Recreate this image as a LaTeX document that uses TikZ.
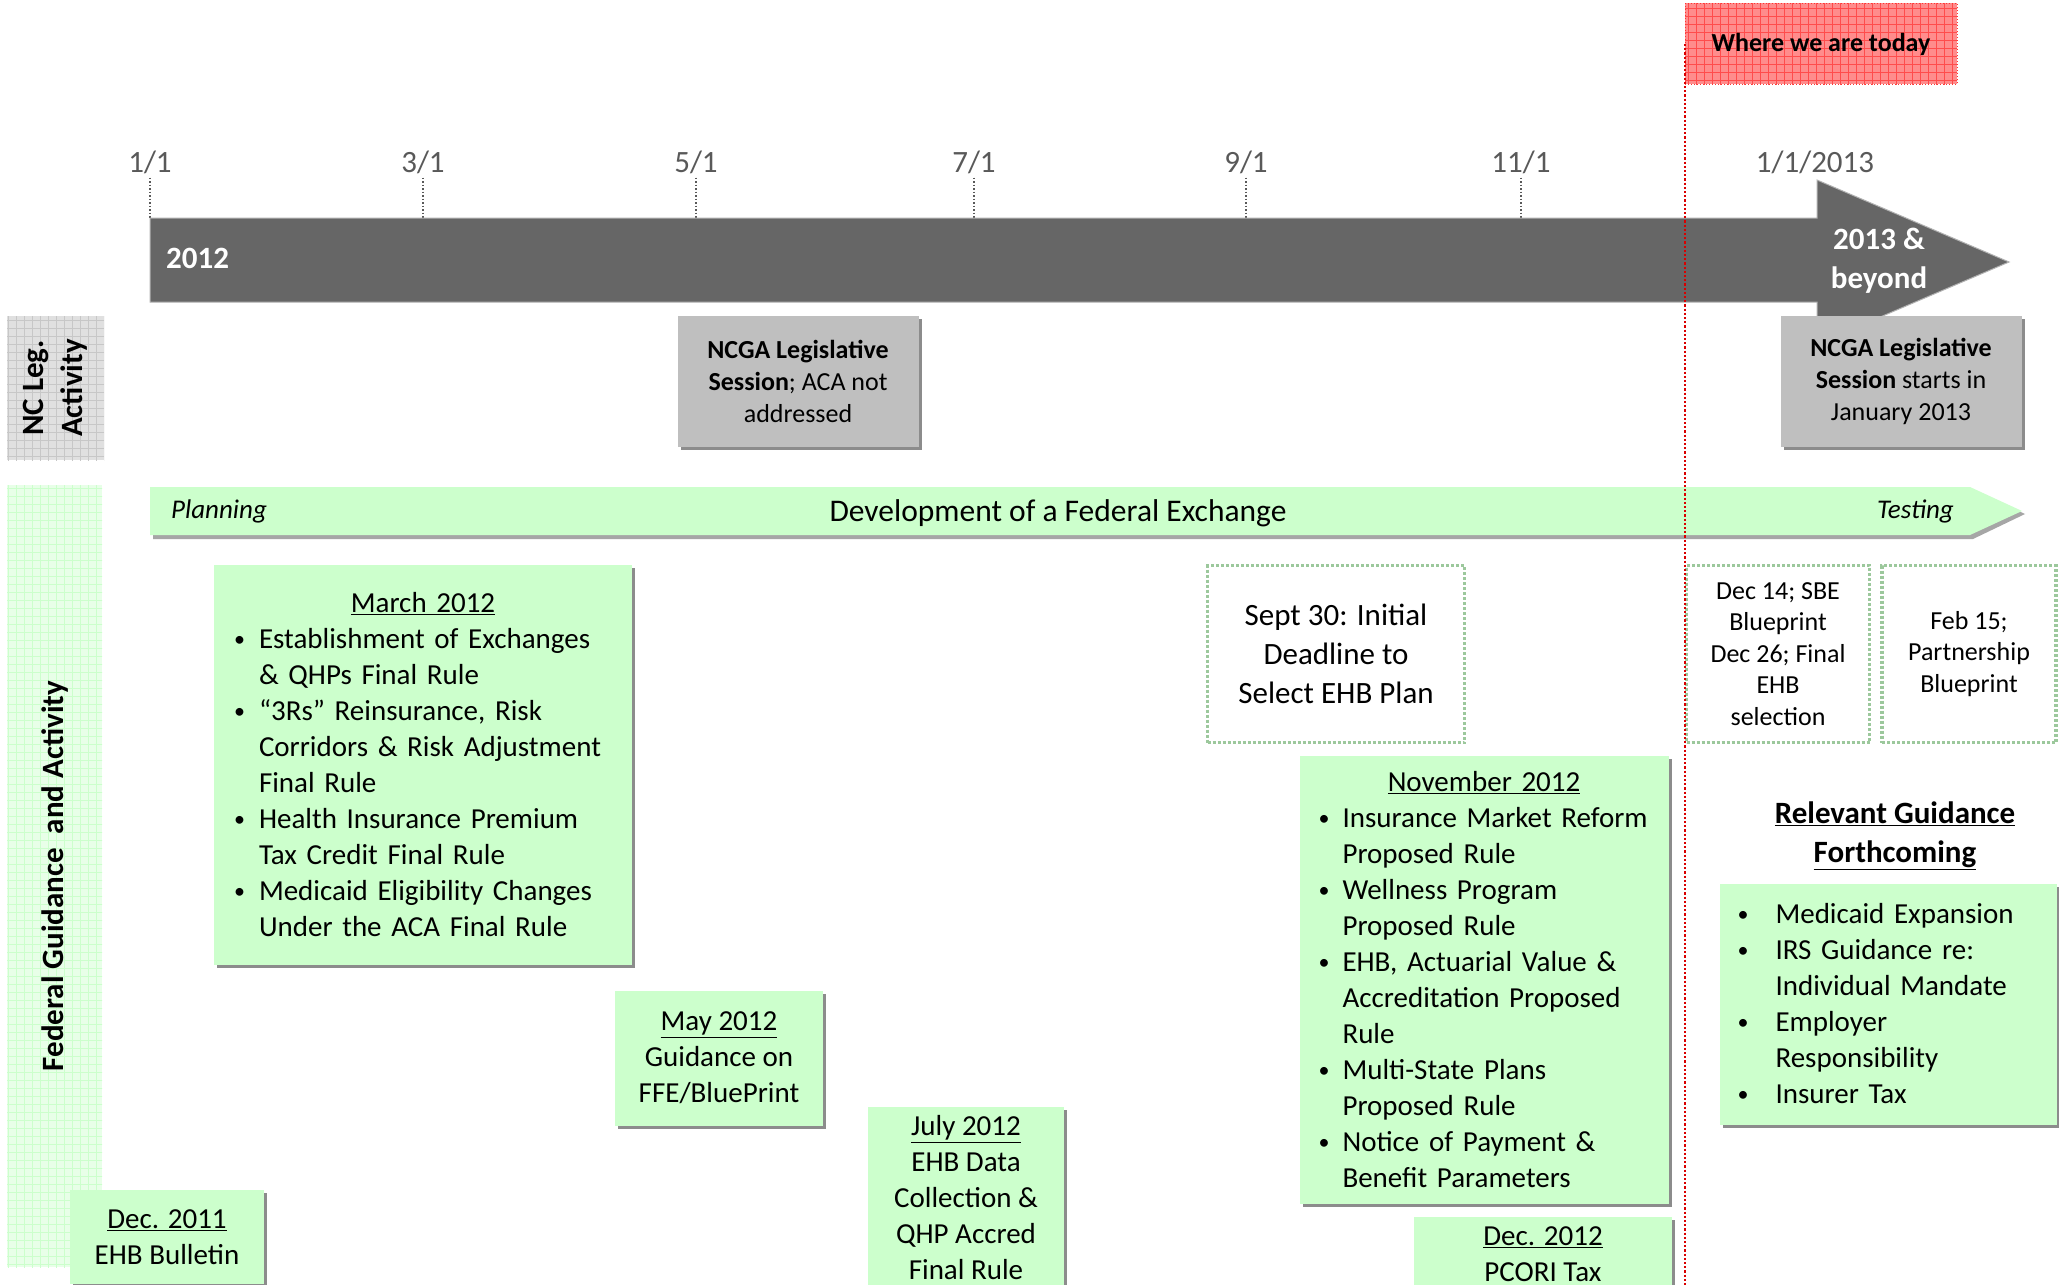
\documentclass[tikz,border=0pt]{standalone}
\usepackage{fontspec}
\setmainfont{Carlito}
\usetikzlibrary{shadows}
\definecolor{boxgreen}{HTML}{CCFFCC}
\definecolor{bargray}{HTML}{666666}
\definecolor{ncgagray}{HTML}{BFBFBF}
\definecolor{ticktext}{HTML}{595959}
\definecolor{dotgreen}{HTML}{9CC89C}
\newcommand\smbul{\raisebox{0.08em}{\fontsize{22}{22}\selectfont\textbullet}}
\newcommand\bi[2][26pt]{\makebox[#1][l]{\hspace{1pt}\smbul}#2}
\newcommand\ci[2][26pt]{\hspace*{#1}#2}
\newcommand\ttl[1]{\makebox[\linewidth]{\underline{#1}}}
\begin{document}
\begin{tikzpicture}[x=1pt,y=-1pt,
  shd/.style={drop shadow={shadow xshift=3pt,shadow yshift=-3pt,fill=black!45,opacity=1}},
  gbox/.style={shd,fill=boxgreen,draw=none,inner sep=0pt,align=center,font=\fontsize{29}{36}\selectfont},
  lbox/.style={gbox,align=left},
  dbox/.style={fill=white,draw=dotgreen,line width=3.5pt,dash pattern=on 3pt off 2pt,inner sep=0pt,align=center},
  nbox/.style={shd,fill=ncgagray,draw=none,inner sep=0pt,align=center,font=\fontsize{26}{32}\selectfont},
  tick/.style={draw=ticktext,dotted,line width=1.5pt},
  ticklab/.style={text=ticktext,font=\fontsize{31}{36}\selectfont,inner sep=0pt}]
\useasboundingbox (0,0) rectangle (2059,1285);
\clip (0,0) rectangle (2059,1285);
\fill[white] (0,0) rectangle (2059,1285);

% where we are today
\fill[red!45!white] (1685,3) rectangle (1957,84);
\begin{scope}
\clip (1685,3) rectangle (1957,84);
\draw[red!70!white,line width=0.8pt,step=8pt] (1680,0) grid (1960,90);
\end{scope}
\draw[red!80!white,dotted,line width=1pt] (1685,3) rectangle (1957,84);
\node[font=\bfseries\fontsize{26}{32}\selectfont,inner sep=0pt] (today) at (1821,44) {Where we are today};

% row labels
\fill[black!12] (7,316) rectangle (104,460);
\begin{scope}
\clip (7,316) rectangle (104,460);
\draw[black!22,line width=0.8pt,step=8pt] (0,310) grid (110,470);
\end{scope}
\node[rotate=90,align=center,font=\bfseries\fontsize{31}{39}\selectfont,inner sep=0pt] (nclab) at (55,388) {NC Leg.\\Activity};

\fill[green!9!white] (7,485) rectangle (102,1267);
\begin{scope}
\clip (7,485) rectangle (102,1267);
\draw[green!20!white,line width=0.8pt,step=8pt] (0,480) grid (110,1270);
\end{scope}
\node[rotate=90,font=\bfseries\fontsize{31}{38}\selectfont,inner sep=0pt] (fedlab) at (55,876) {Federal Guidance\ \ and Activity};

% tick marks and labels
\foreach \nm/\lab/\xx in {t1/1\slash 1/150, t3/3\slash 1/423, t5/5\slash 1/696, t7/7\slash 1/974, t9/9\slash 1/1246, t11/11\slash 1/1521}{
  \node[ticklab] (\nm) at (\xx,162) {\lab};
  \coordinate (\nm b) at (\xx,218);
  \draw[tick] (\nm.south) ++(0,4) -- (\nm b);
}
\node[ticklab] (t13) at (1815,162) {1/1/2013};

% dark time bar
\fill[bargray,draw=black!30,line width=1pt] (150,218) -- (1817,218) -- (1817,180) -- (2009,262) -- (1817,344) -- (1817,302) -- (150,302) -- cycle;
\node[text=white,font=\bfseries\fontsize{31}{38}\selectfont,anchor=west,inner sep=0pt] (y2012) at (166,258) {2012};
\node[text=white,align=center,font=\bfseries\fontsize{31}{39}\selectfont,inner sep=0pt] (y2013) at (1879,261) {2013 \&\\beyond};

% NCGA boxes
\node[nbox,minimum width=241,minimum height=131] (ncga1) at (798,381) {\textbf{NCGA Legislative}\\\textbf{Session}; ACA not\\addressed};
\node[nbox,minimum width=241,minimum height=131] (ncga2) at (1901,381) {\textbf{NCGA Legislative}\\\textbf{Session} starts in\\January 2013};

% green development arrow
\fill[black!35] (153,490) -- (1973,490) -- (2025,514) -- (1973,539) -- (153,539) -- cycle;
\fill[boxgreen] (150,487) -- (1970,487) -- (2022,511) -- (1970,535) -- (150,535) -- cycle;
\node[anchor=west,font=\itshape\fontsize{27}{32}\selectfont,inner sep=0pt] (plan) at (171,511) {Planning};
\node[anchor=east,font=\itshape\fontsize{27}{32}\selectfont,inner sep=0pt] (test) at (1954,511) {Testing};
\node[font=\fontsize{31.5}{36}\selectfont,inner sep=0pt] (dev) at (1058,513) {Development of a Federal Exchange};

% federal guidance boxes
\node[lbox,minimum width=418,minimum height=400,text width=380] (march) at (423,765) {\ttl{March 2012}\\
\bi{Establishment of Exchanges}\\ \ci{\& QHPs Final Rule}\\
\bi{“3Rs” Reinsurance, Risk}\\ \ci{Corridors \& Risk Adjustment}\\ \ci{Final Rule}\\
\bi{Health Insurance Premium}\\ \ci{Tax Credit Final Rule}\\
\bi{Medicaid Eligibility Changes}\\ \ci{Under the ACA Final Rule}};

\node[gbox,minimum width=208,minimum height=135] (may) at (719,1058) {\underline{May 2012}\\Guidance on\\FFE/BluePrint};
\node[gbox,minimum width=196,minimum height=183] (july) at (966,1198) {\underline{July 2012}\\EHB Data\\Collection \&\\QHP Accred\\Final Rule};
\node[gbox,minimum width=194,minimum height=94] (dec11) at (167,1237) {\underline{Dec. 2011}\\EHB Bulletin};

\node[dbox,minimum width=257,minimum height=177,font=\fontsize{31}{39}\selectfont] (sept) at (1336,654) {Sept 30: Initial\\Deadline to\\Select EHB Plan};
\node[dbox,minimum width=183,minimum height=177,font=\fontsize{26}{31.5}\selectfont] (dec14) at (1778,654) {Dec 14; SBE\\Blueprint\\Dec 26; Final\\EHB\\selection};
\node[dbox,minimum width=174,minimum height=177,font=\fontsize{26}{31.5}\selectfont] (feb15) at (1969,654) {Feb 15;\\Partnership\\Blueprint};

\node[lbox,minimum width=369,minimum height=448,text width=333] (nov) at (1484,980) {\ttl{November 2012}\\
\bi[25pt]{Insurance Market Reform}\\ \ci[25pt]{Proposed Rule}\\
\bi[25pt]{Wellness Program}\\ \ci[25pt]{Proposed Rule}\\
\bi[25pt]{EHB, Actuarial Value \&}\\ \ci[25pt]{Accreditation Proposed}\\ \ci[25pt]{Rule}\\
\bi[25pt]{Multi-State Plans}\\ \ci[25pt]{Proposed Rule}\\
\bi[25pt]{Notice of Payment \&}\\ \ci[25pt]{Benefit Parameters}};

\node[gbox,minimum width=258,minimum height=75] (dec12) at (1543,1254) {\underline{Dec. 2012}\\PCORI Tax};

\node[align=center,font=\bfseries\fontsize{31}{39}\selectfont,inner sep=0pt] (relhd) at (1895,836) {\underline{Relevant Guidance}\\\underline{Forthcoming}};
\node[lbox,minimum width=337,minimum height=241,text width=303] (rel) at (1888,1004) {%
\bi[39pt]{Medicaid Expansion}\\
\bi[39pt]{IRS Guidance re:}\\ \ci[39pt]{Individual Mandate}\\
\bi[39pt]{Employer}\\ \ci[39pt]{Responsibility}\\
\bi[39pt]{Insurer Tax}};

% today line
\coordinate (todaybot) at (1685,1285);
\draw[red!85!black,dotted,line width=2.2pt] (today.west -| 1685,84) -- (todaybot);
\end{tikzpicture}
\end{document}
